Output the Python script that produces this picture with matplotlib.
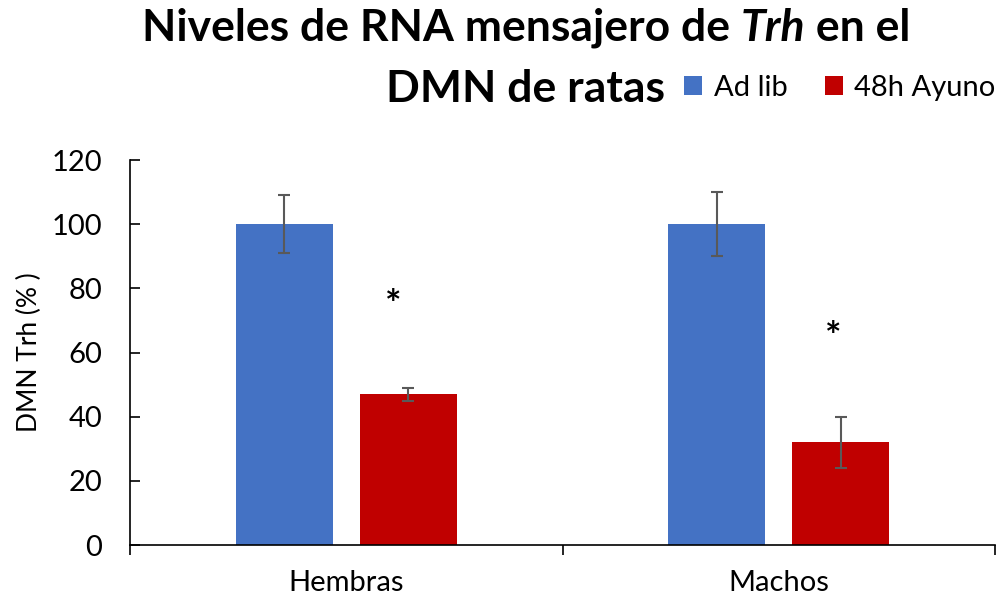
import numpy as np
import matplotlib
matplotlib.use('Agg')
import matplotlib.pyplot as plt

plt.rcParams['font.family'] = ['Lato', 'DejaVu Sans']

# data
groups = ['Hembras', 'Machos']
series = ['Ad lib', '48h Ayuno']
adlib = [100, 100]
adlib_err = [9, 10]
ayuno = [47, 32]
ayuno_err = [2, 8]
star_y = [78.5, 68.5]

blue = '#4472C4'
red = '#C00000'
grey = '#595959'

fig = plt.figure(figsize=(10, 5.98), dpi=100)
ax = fig.add_axes([0.13, 0.0886, 0.865, 0.6438])

x = np.arange(len(groups)) + 0.5
w = 0.224
off = 0.143
ax.bar(x - off, adlib, w, color=blue, label=series[0], zorder=2)
ax.bar(x + off, ayuno, w, color=red, label=series[1], zorder=2)
ax.errorbar(x - off, adlib, yerr=adlib_err, fmt='none', ecolor=grey,
            elinewidth=1.5, capsize=4.5, capthick=1.5, zorder=3)
ax.errorbar(x + off, ayuno, yerr=ayuno_err, fmt='none', ecolor=grey,
            elinewidth=1.5, capsize=4.5, capthick=1.5, zorder=3)
# asterisks sit a bit left of the red bars
star_dx = [-0.035, -0.017]
for i in range(len(groups)):
    ax.annotate('*', (x[i] + off + star_dx[i], star_y[i]), xytext=(0, -9),
                textcoords='offset points', ha='center', va='center',
                fontsize=28, fontweight='bold', color='black')

ax.set_xlim(0, 2)
ax.set_ylim(0, 120)
ax.set_yticks(np.arange(0, 121, 20))
ax.tick_params(axis='y', labelsize=21, direction='in', length=7, width=1.2, pad=20)
ax.set_xticks([0, 1, 2])
ax.set_xticklabels([])
ax.set_xticks(x, minor=True)
ax.set_xticklabels(groups, minor=True)
ax.tick_params(axis='x', which='major', length=7, width=1.2)
ax.tick_params(axis='x', which='minor', length=0, labelsize=21, pad=18)
for s in ['top', 'right']:
    ax.spines[s].set_visible(False)
for s in ['left', 'bottom']:
    ax.spines[s].set_linewidth(1.2)
ax.set_ylabel('DMN Trh (% )', fontsize=19, labelpad=7)

# title, with italic Trh
fig.canvas.draw()
r = fig.canvas.get_renderer()
parts = [('Niveles de RNA mensajero de ', 'normal'), ('Trh', 'italic'), (' en el', 'normal')]
txts = []
for s, st in parts:
    t = fig.text(0, 0.953, s, fontsize=32, fontweight='bold', style=st,
                 ha='left', va='center')
    txts.append(t)
widths = [t.get_window_extent(r).width for t in txts]
total = sum(widths)
xpos = 526 - total / 2
for t, wd in zip(txts, widths):
    t.set_x(xpos / 1000)
    xpos += wd
fig.text(0.525, 0.852, 'DMN de ratas', fontsize=32, fontweight='bold',
         ha='center', va='center')

fig.legend(loc='center', bbox_to_anchor=(0.840, 0.853), ncol=2, frameon=False,
           fontsize=21, handlelength=0.6, handleheight=0.6, handletextpad=0.4,
           columnspacing=1.3)

fig.savefig('out.png', dpi=100)
